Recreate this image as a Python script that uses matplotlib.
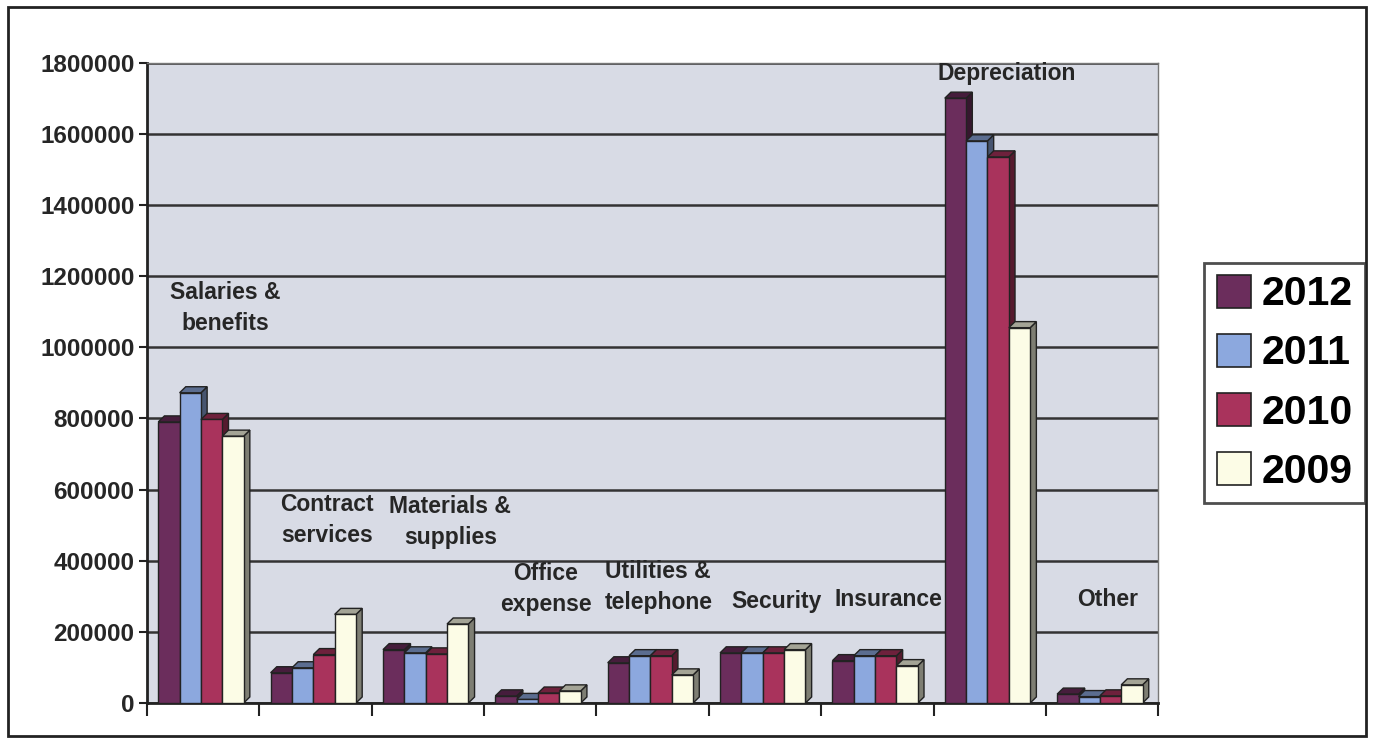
import numpy as np
import matplotlib
matplotlib.use("Agg")
import matplotlib.pyplot as plt
from matplotlib.patches import Polygon, Rectangle, Patch
from matplotlib.colors import to_rgb

categories = ["Salaries &\nbenefits", "Contract\nservices", "Materials &\nsupplies",
              "Office\nexpense", "Utilities &\ntelephone", "Security", "Insurance",
              "Depreciation", "Other"]
years = ["2012", "2011", "2010", "2009"]
v2012 = [790000, 85000, 150000, 20000, 113000, 141000, 119000, 1700000, 25000]
v2011 = [872000, 99000, 141000, 10000, 133000, 141000, 133000, 1580000, 18000]
v2010 = [797000, 136000, 138000, 28000, 133000, 141000, 133000, 1535000, 20000]
v2009 = [750000, 249000, 222000, 34000, 79000, 150000, 105000, 1055000, 51000]
yticks = [0, 200000, 400000, 600000, 800000, 1000000, 1200000, 1400000, 1600000, 1800000]

series = [v2012, v2011, v2010, v2009]
colors = ["#6b2d5c", "#8ca8de", "#a9335c", "#fcfce6"]

# label positions (x in category units, y in data units)
label_x = [0.7, 1.6, 2.7, 3.55, 4.55, 5.6, 6.6, 7.65, 8.55]
label_y = [1110000, 515000, 510000, 320000, 325000, 285000, 290000, 1770000, 290000]

plt.rcParams['font.family'] = ['Liberation Sans', 'DejaVu Sans']
plt.rcParams['font.weight'] = 'bold'

fig = plt.figure(figsize=(13.74, 7.49), dpi=100)
ax = fig.add_axes([0.107, 0.0614, 0.736, 0.855])
ax.set_facecolor("#d8dbe5")

def shade(c, f):
    r, g, b = to_rgb(c)
    return (r * f, g * f, b * f)

w = 0.19
dx = 0.055
dy = 17000
start = 0.1
z = 3
for j in range(len(categories)):
    for i, vals in enumerate(series):
        x0 = j + start + i * w
        h = vals[j]
        c = colors[i]
        side = Polygon([[x0 + w, 0], [x0 + w + dx, dy], [x0 + w + dx, h + dy], [x0 + w, h]],
                       closed=True, facecolor=shade(c, 0.5), edgecolor="#222222", lw=1, zorder=z)
        top = Polygon([[x0, h], [x0 + dx, h + dy], [x0 + w + dx, h + dy], [x0 + w, h]],
                      closed=True, facecolor=shade(c, 0.65), edgecolor="#222222", lw=1, zorder=z)
        ax.add_patch(side)
        ax.add_patch(top)
        ax.bar(x0, h, width=w, align="edge", color=c, edgecolor="#222222", lw=1, zorder=z + 0.5)
        z += 1

for j, lab in enumerate(categories):
    ax.text(label_x[j], label_y[j], lab, ha="center", va="center", fontsize=16.5,
            fontweight="bold", color="#262626", linespacing=1.45, zorder=100)

ax.set_xlim(0, len(categories))
ax.set_ylim(0, 1800000)
ax.set_yticks(yticks)
ax.set_yticklabels([str(t) for t in yticks], fontsize=17.5, fontweight="bold", color="#262626")
ax.set_xticks(np.arange(0, len(categories) + 1))
ax.set_xticklabels([])
ax.tick_params(axis="x", direction="out", length=9, width=1.5, color="#222222")
ax.tick_params(axis="y", direction="out", length=6, width=1.5, color="#222222", pad=3)
ax.grid(axis="y", color="#333333", lw=1.8, zorder=1)
ax.set_axisbelow(True)
for s in ["top", "right"]:
    ax.spines[s].set_color("#777777")
    ax.spines[s].set_linewidth(1)
for s in ["left", "bottom"]:
    ax.spines[s].set_color("#222222")
    ax.spines[s].set_linewidth(2)

handles = [Patch(facecolor=c, edgecolor="#222222", lw=1.2) for c in colors]
leg = fig.legend(handles, years, loc="center", bbox_to_anchor=(0.935, 0.489),
                 frameon=True, fancybox=False, handlelength=0.85,
                 handleheight=0.85, handletextpad=0.25, labelspacing=0.5,
                 borderpad=0.3, borderaxespad=0, prop={"size": 29.5, "weight": "bold"})
leg.get_frame().set_edgecolor("#222222")
leg.get_frame().set_linewidth(2)

fig.patches.append(Rectangle((0.006, 0.018), 0.988, 0.972, transform=fig.transFigure,
                             fill=False, edgecolor="#222222", lw=2))

fig.savefig("out.png", dpi=100)
